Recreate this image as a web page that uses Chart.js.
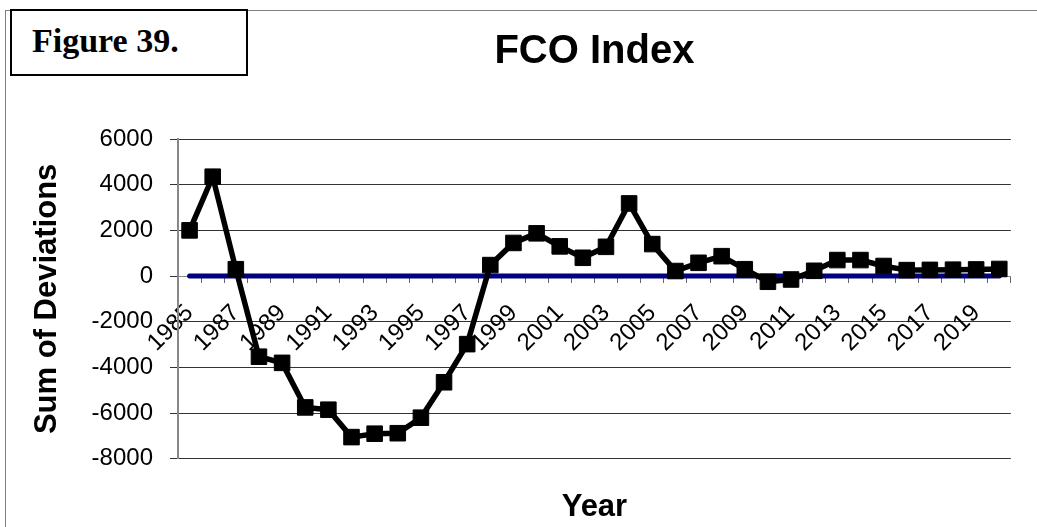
<!DOCTYPE html>
<html>
<head>
<meta charset="utf-8">
<script src="https://cdn.jsdelivr.net/npm/chart.js@4"></script>
<style>
body{margin:0;background:#fff;}
#wrap{position:relative;width:1037px;height:527px;overflow:hidden;}
#frame{position:absolute;left:5px;top:10px;width:1100px;height:600px;border-left:1px solid #808080;border-top:1px solid #808080;}
#fig{position:absolute;left:10px;top:9px;height:63px;border:2px solid #000;background:#fff;
  font:bold 34px "Liberation Serif","Times New Roman",serif;line-height:60px;padding-left:20px;width:214px;}
#c{position:absolute;left:0;top:0;}
</style>
</head>
<body>
<div id="wrap">
  <div id="frame"></div>
  <canvas id="c" width="1037" height="527"></canvas>
  <div id="fig">Figure 39.</div>
</div>
<script>
// data
const years=[1985,1986,1987,1988,1989,1990,1991,1992,1993,1994,1995,1996,1997,1998,1999,2000,2001,2002,2003,2004,2005,2006,2007,2008,2009,2010,2011,2012,2013,2014,2015,2016,2017,2018,2019,2020];
const fcoIndex=[2000,4350,300,-3530,-3800,-5750,-5850,-7050,-6900,-6880,-6200,-4650,-2980,480,1450,1870,1300,800,1280,3180,1400,220,580,870,300,-250,-150,230,700,700,440,260,270,280,290,310];
const zeroLine=[0,0,0,0,0,0,0,0,0,0,0,0,0,0,0,0,0,0,0,0,0,0,0,0,0,0,0,0,0,0,0,0,0,0,0,0];
const yTicks=[-8000,-6000,-4000,-2000,0,2000,4000,6000];

const FONT='"Liberation Sans", Arial, sans-serif';

new Chart(document.getElementById('c'),{
  type:'line',
  data:{
    labels:years.map(String),
    datasets:[
      {label:'FCO Index',data:fcoIndex,borderColor:'#000',backgroundColor:'#000',borderWidth:5.5,
       pointStyle:'rect',pointRadius:11,pointBorderWidth:1,tension:0,order:1},
      {label:'Zero',data:zeroLine,borderColor:'#000080',borderWidth:5,borderCapStyle:'round',
       pointRadius:0,tension:0,order:2}
    ]
  },
  options:{
    responsive:false,animation:false,
    layout:{padding:{left:10,right:25,top:0,bottom:0}},
    plugins:{
      legend:{display:false},tooltip:{enabled:false},
      title:{display:true,text:'FCO Index',color:'#000',fullSize:false,
        font:{family:FONT,size:40,weight:'bold',lineHeight:1.2},padding:{top:28,bottom:63}},
      subtitle:{display:true,text:'Year',position:'bottom',color:'#000',fullSize:false,
        font:{family:FONT,size:31,weight:'bold',lineHeight:1.2},padding:{top:30,bottom:1}}
    },
    scales:{
      x:{
        position:{y:0},offset:true,
        grid:{drawOnChartArea:false,drawTicks:true,tickLength:6,color:'#666',offset:true},
        border:{display:true,color:'#888',width:1},
        ticks:{autoSkip:false,minRotation:45,maxRotation:45,padding:17,color:'#000',
          font:{family:FONT,size:24},
          callback:(v,i)=>i%2===0?years[i]:''}
      },
      y:{
        min:-8000,max:6000,
        afterBuildTicks:s=>{s.ticks=yTicks.map(v=>({value:v}));},
        afterFit:s=>{s.width=168;},
        grid:{color:'#333',lineWidth:1,tickLength:8},
        border:{color:'#888',width:2},
        ticks:{padding:17,color:'#000',font:{family:FONT,size:24},callback:v=>String(v)},
        title:{display:true,text:'Sum of Deviations',color:'#000',
          font:{family:FONT,size:31,weight:'bold',lineHeight:1.2},padding:{top:19,bottom:0}}
      }
    }
  }
});
</script>
</body>
</html>
